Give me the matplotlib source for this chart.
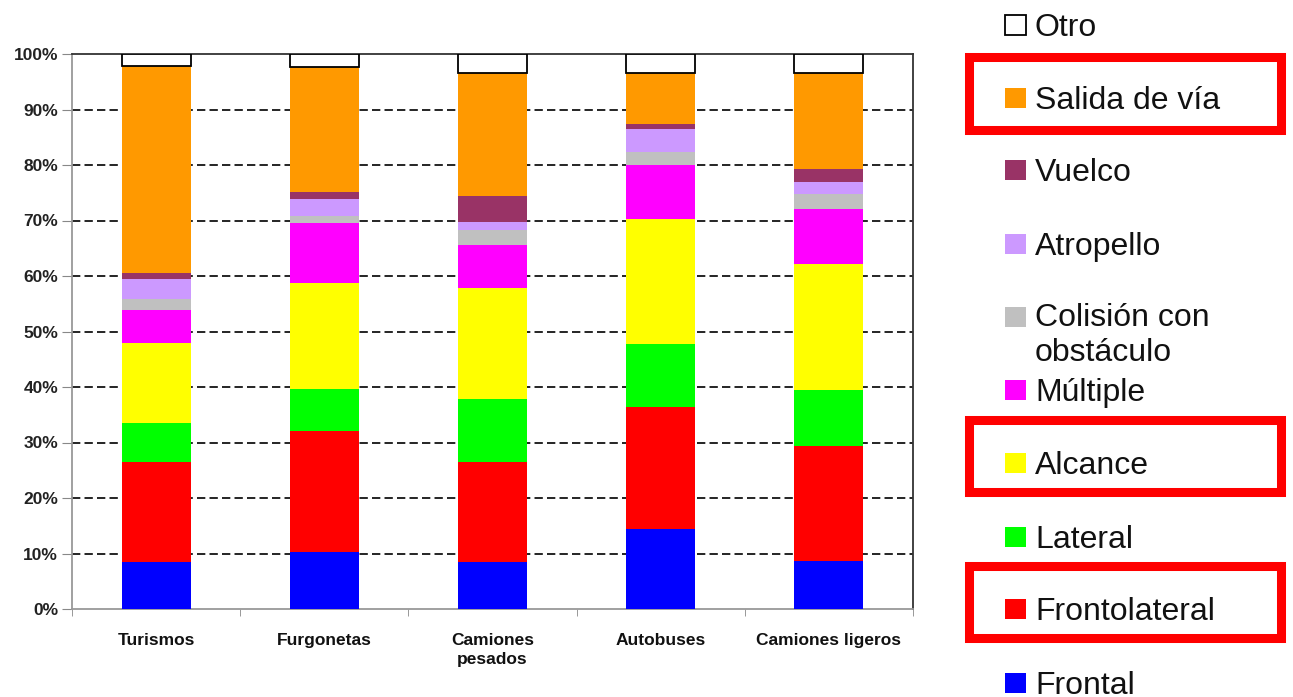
import matplotlib.pyplot as plt
from matplotlib.patches import Rectangle
import numpy as np

# vehicle types (x axis)
vehiculos = ["Turismos", "Furgonetas", "Camiones\npesados", "Autobuses", "Camiones ligeros"]

# share of each accident type (%), bottom to top of each bar
frontal = [8.4, 10.2, 8.4, 14.5, 8.7]
frontolateral = [18.1, 21.9, 18.1, 21.9, 20.6]
lateral = [7.0, 7.6, 11.4, 11.3, 10.1]
alcance = [14.5, 19.0, 19.9, 22.5, 22.7]
multiple = [5.9, 10.8, 7.8, 9.8, 9.9]
colision = [2.0, 1.4, 2.7, 2.4, 2.7]
atropello = [3.5, 2.9, 1.5, 4.0, 2.2]
vuelco = [1.2, 1.3, 4.7, 0.9, 2.4]
salida = [37.2, 22.5, 22.1, 9.3, 17.3]
otro = [2.2, 2.4, 3.4, 3.4, 3.4]

series = [
    ("Frontal", frontal, "#0000FF"),
    ("Frontolateral", frontolateral, "#FF0000"),
    ("Lateral", lateral, "#00FF00"),
    ("Alcance", alcance, "#FFFF00"),
    ("Múltiple", multiple, "#FF00FF"),
    ("Colisión con\nobstáculo", colision, "#C0C0C0"),
    ("Atropello", atropello, "#CC99FF"),
    ("Vuelco", vuelco, "#993366"),
    ("Salida de vía", salida, "#FF9900"),
    ("Otro", otro, "white"),
]
y_ticks = [0, 10, 20, 30, 40, 50, 60, 70, 80, 90, 100]

W, H = 1293, 697
fig = plt.figure(figsize=(W / 100, H / 100), dpi=100)
ax = fig.add_axes([72 / W, 1 - 609 / H, (913 - 72) / W, (609 - 54) / H])

x = np.arange(len(vehiculos))
bottom = np.zeros(len(vehiculos))
for name, vals, col in series:
    vals = np.array(vals)
    if name == "Otro":
        ax.bar(x, vals, 0.41, bottom=bottom, color=col, edgecolor="black",
               linewidth=1.3, zorder=3)
    else:
        ax.bar(x, vals, 0.41, bottom=bottom, color=col, linewidth=0, zorder=3)
    bottom += vals

ax.set_xlim(-0.5, len(vehiculos) - 0.5)
ax.set_ylim(0, 100)
ax.set_yticks(y_ticks)
ax.set_yticklabels([f"{t}%" for t in y_ticks], fontsize=12.5, fontweight="bold",
                   family="Liberation Sans", color="#222222")
ax.set_xticks(x)
ax.set_xticklabels(vehiculos, fontsize=12.5, fontweight="bold",
                   family="Liberation Sans", color="#111111", linespacing=1.4)
ax.set_xticks(np.arange(len(vehiculos) + 1) - 0.5, minor=True)
ax.tick_params(axis="x", which="major", length=0, pad=17)
ax.tick_params(axis="x", which="minor", length=5, color="#888888")
ax.tick_params(axis="y", length=7, color="#888888", pad=3)

ax.set_axisbelow(True)
for t in y_ticks[1:-1]:
    ax.axhline(t, color="black", linewidth=1.2, linestyle=(0, (5, 2.5)), zorder=1)

ax.spines["left"].set_color("#999999")
ax.spines["bottom"].set_color("#999999")
ax.spines["top"].set_color("#333333")
ax.spines["right"].set_color("#333333")
for s in ax.spines.values():
    s.set_linewidth(1.3)

# legend on the right, top entry first
leg_y = [25, 98, 170, 244, 317, 390, 463, 537, 609, 683]
for (name, vals, col), yp in zip(series[::-1], leg_y):
    fig.patches.append(Rectangle((1005 / W, 1 - (yp + 10) / H), 21 / W, 20 / H,
                                 transform=fig.transFigure, facecolor=col,
                                 edgecolor="black" if name == "Otro" else col,
                                 linewidth=1.3 if name == "Otro" else 0))
    if "\n" in name:
        fig.text(1035 / W, 1 - (yp - 14) / H, name, fontsize=23,
                 family="Liberation Sans", va="top", ha="left",
                 linespacing=1.2, color="#111111")
    else:
        fig.text(1035 / W, 1 - (yp + 3) / H, name, fontsize=23,
                 family="Liberation Sans", va="center", ha="left",
                 color="#111111")

# red highlight boxes
for y0, y1 in [(57, 130), (420, 492), (566, 638)]:
    fig.patches.append(Rectangle((969 / W, 1 - y1 / H), (1281 - 969) / W, (y1 - y0) / H,
                                 transform=fig.transFigure, fill=False,
                                 edgecolor="#FF0000", linewidth=6.5))

fig.savefig("out.png", dpi=100)
